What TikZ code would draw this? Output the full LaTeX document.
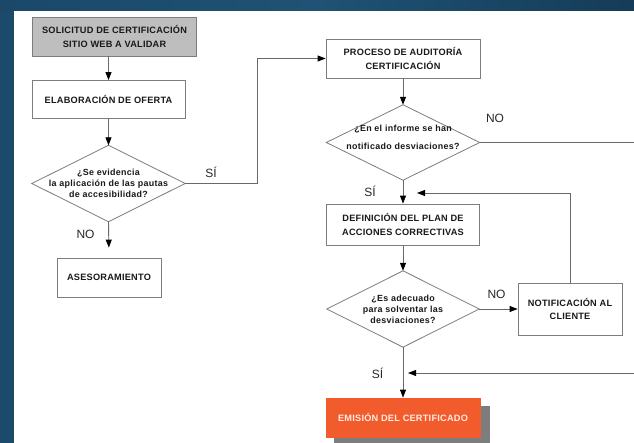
\documentclass[tikz,border=0pt]{standalone}
\usepackage{fontspec}
\setmainfont{Liberation Sans}
\newfontfamily\boxfont[LetterSpace=2.5]{Liberation Sans}
\newfontfamily\diafont[LetterSpace=3.5]{Liberation Sans}
\usetikzlibrary{arrows.meta}
\definecolor{bgblue}{RGB}{28,74,107}
\definecolor{bandL}{RGB}{27,72,104}
\definecolor{bandM}{RGB}{31,82,116}
\definecolor{bandR}{RGB}{21,60,88}
\definecolor{boxline}{RGB}{125,125,125}
\definecolor{linecol}{RGB}{105,105,105}
\definecolor{txtcol}{RGB}{25,25,25}
\definecolor{lblcol}{RGB}{40,40,40}
\definecolor{graybox}{RGB}{190,190,190}
\definecolor{orangebox}{RGB}{242,92,44}
\definecolor{shadowcol}{RGB}{125,125,125}
\begin{document}
\begin{tikzpicture}[x=1pt,y=-1pt,
  box/.style={draw=boxline, line width=0.8pt, fill=white, inner sep=0pt,
    align=center, text=txtcol,
    font=\boxfont\bfseries\fontsize{9.2}{13.5}\selectfont},
  diabox/.style={draw=none, inner sep=0pt},
  dtxt/.style={align=center, text=txtcol, inner sep=0pt,
    font=\diafont\bfseries\fontsize{8.9}{11}\selectfont},
  lbl/.style={text=lblcol, inner sep=0pt, font=\fontsize{12}{14}\selectfont},
  conn/.style={draw=linecol, line width=0.9pt},
  arr/.style={conn, -{Triangle[length=8pt,width=6pt,color=black]}},
  diaedge/.style={draw=boxline, line width=0.8pt, fill=white}
]
\useasboundingbox (0,0) rectangle (634,443);
% background
\fill[bgblue] (0,0) rectangle (634,443);
\shade[left color=bandL, right color=bandR, middle color=bandM, shading angle=90] (0,0) rectangle (634,11);
\fill[white] (14,11) rectangle (634,443);

% nodes
\node[box, fill=graybox, minimum width=164pt, minimum height=39pt] (sol) at (114.5,36.5)
  {SOLICITUD DE CERTIFICACIÓN\\SITIO WEB A VALIDAR};
\node[box, minimum width=153pt, minimum height=38pt] (elab) at (108.5,99.5)
  {ELABORACIÓN DE OFERTA};
\node[diabox, minimum width=153pt, minimum height=76pt] (d1) at (108.5,183.5) {};
\node[box, minimum width=104pt, minimum height=39pt] (ases) at (109,277.5)
  {ASESORAMIENTO};
\node[box, minimum width=154pt, minimum height=39pt] (proc) at (403,58.5)
  {PROCESO DE AUDITORÍA\\CERTIFICACIÓN};
\node[diabox, minimum width=153pt, minimum height=75pt] (d2) at (403,142.5) {};
\node[box, minimum width=153pt, minimum height=41pt] (def) at (403,224.5)
  {DEFINICIÓN DEL PLAN DE\\ACCIONES CORRECTIVAS};
\node[diabox, minimum width=152pt, minimum height=76pt] (d3) at (403,309) {};
\node[box, minimum width=104pt, minimum height=52pt] (notif) at (570,309)
  {NOTIFICACIÓN AL\\CLIENTE};
% shadow + emission box
\fill[shadowcol] (334,406) rectangle (490,446);
\node[box, draw=orangebox, fill=orangebox, text={rgb,255:red,255;green,236;blue,226},
  minimum width=154pt, minimum height=39pt] (emis) at (403,417.5)
  {EMISIÓN DEL CERTIFICADO};

% diamonds
\foreach \d in {d1,d2,d3}{
  \path[diaedge] (\d.north) -- (\d.east) -- (\d.south) -- (\d.west) -- cycle;
}
\node[dtxt] (d1t) at (108.5,183.5) {¿Se evidencia\\la aplicación de las pautas\\de accesibilidad?};
\node[dtxt] (d2t) at (403,137.5) {¿En el informe se han\\[7pt]notificado desviaciones?};
\node[dtxt] (d3t) at (403,309) {¿Es adecuado\\para solventar las\\desviaciones?};

% coordinates for free ends
\coordinate (c1) at (257,183.5);
\coordinate (c2) at (257,58.5);
\coordinate (eR1) at (634,142.5);
\coordinate (n1) at (570,193);
\coordinate (t1) at (417,193);
\coordinate (eR2) at (634,373);
\coordinate (t2) at (408,373);

% connectors
\draw[arr] (sol.south -| elab.north) -- (elab.north);
\draw[arr] (elab.south) -- (d1.north);
\draw[arr] (d1.east) -- (c1) -- (c2) -- (proc.west);
\draw[arr, shorten >=10pt] (d1.south) -- (ases.north);
\draw[arr] (proc.south) -- (d2.north);
\draw[conn] (d2.east) -- (eR1);
\draw[arr] (d2.south) -- (def.north);
\draw[arr] (notif.north) -- (n1) -- (t1);
\draw[arr] (def.south) -- (d3.north);
\draw[arr] (d3.east) -- (notif.west);
\draw[arr] (d3.south) -- (emis.north);
\draw[arr] (eR2) -- (t2);

% labels
\node[lbl] (l1) at (211,172) {SÍ};
\node[lbl] (l2) at (85.5,234.5) {NO};
\node[lbl] (l3) at (495,118) {NO};
\node[lbl] (l4) at (370,191) {SÍ};
\node[lbl] (l5) at (496.5,294) {NO};
\node[lbl] (l6) at (377.5,373) {SÍ};
\end{tikzpicture}
\end{document}
